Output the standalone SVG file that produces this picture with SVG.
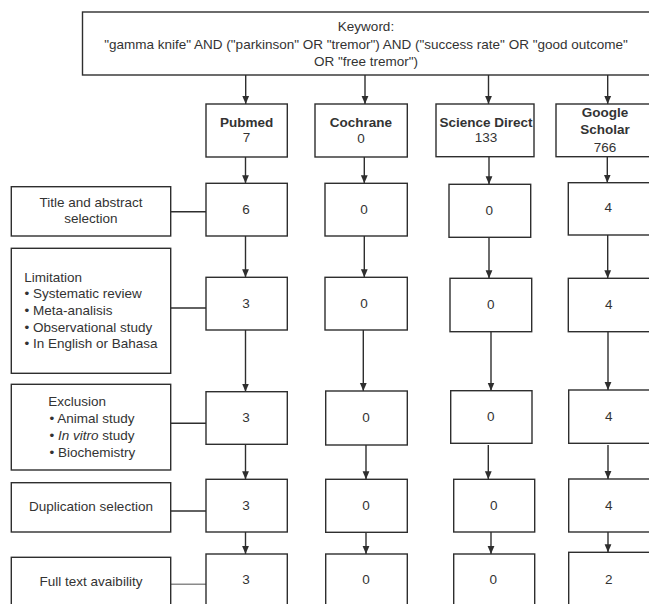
<svg xmlns="http://www.w3.org/2000/svg" width="649" height="604" viewBox="0 0 649 604">
<style>
.box{fill:#fff;stroke:#2e2e2e;stroke-width:1.4}
text{font-family:"Liberation Sans",Arial,sans-serif;font-size:13.5px;fill:#333}
.c{text-anchor:middle}
.b{font-weight:bold}
.con{stroke:#2e2e2e;stroke-width:1.4;fill:none}
.arr{marker-end:url(#ah)}
.gray{stroke:#8a8a8a}
</style>
<defs>
<marker id="ah" markerUnits="userSpaceOnUse" markerWidth="8" markerHeight="8" viewBox="0 0 8 8" refX="8" refY="4" orient="auto">
<path d="M0,0.6 L8,4 L0,7.4 z" fill="#2e2e2e"/>
</marker>
</defs>
<rect width="649" height="604" fill="#fff"/>

<g id="connectors">
<line class="con arr" x1="245.7" y1="75" x2="245.7" y2="104"/>
<line class="con arr" x1="365" y1="75" x2="365" y2="104"/>
<line class="con arr" x1="488.5" y1="75" x2="488.5" y2="104"/>
<line class="con arr" x1="607.7" y1="75" x2="607.7" y2="104"/>

<line class="con arr" x1="245.5" y1="157" x2="245.5" y2="183.3"/>
<line class="con arr" x1="364.3" y1="157" x2="364.3" y2="183.3"/>
<line class="con arr" x1="489" y1="157" x2="489" y2="184.3"/>
<line class="con arr" x1="607.3" y1="157" x2="607.3" y2="182.7"/>

<line class="con arr" x1="245.5" y1="236" x2="245.5" y2="277.3"/>
<line class="con arr" x1="364.3" y1="236" x2="364.3" y2="277.3"/>
<line class="con arr" x1="489" y1="237.3" x2="489" y2="278.3"/>
<line class="con arr" x1="607.7" y1="235" x2="607.7" y2="278.3"/>

<line class="con arr" x1="245.5" y1="330" x2="245.5" y2="391.7"/>
<line class="con arr" x1="363.3" y1="330" x2="363.3" y2="391"/>
<line class="con arr" x1="491" y1="331.7" x2="491" y2="390.7"/>
<line class="con arr" x1="608" y1="331.7" x2="608" y2="390"/>

<line class="con arr" x1="245.5" y1="444.3" x2="245.5" y2="479.3"/>
<line class="con arr" x1="366" y1="445" x2="366" y2="479.3"/>
<line class="con arr" x1="488.3" y1="445" x2="488.3" y2="479.3"/>
<line class="con arr" x1="608" y1="445" x2="608" y2="479"/>

<line class="con arr" x1="245.5" y1="532" x2="245.5" y2="554"/>
<line class="con arr" x1="366" y1="532.3" x2="366" y2="554"/>
<line class="con arr" x1="491" y1="532" x2="491" y2="554"/>
<line class="con arr" x1="608" y1="532" x2="608" y2="552.3"/>

<line class="con" x1="170.7" y1="211.7" x2="206" y2="211.7"/>
<line class="con" x1="170.7" y1="308" x2="206" y2="308"/>
<line class="con" x1="170.7" y1="423.3" x2="206" y2="423.3"/>
<line class="con" x1="170.7" y1="511" x2="206" y2="511"/>
<line class="con gray" x1="170.7" y1="584.3" x2="206" y2="584.3"/>
</g>

<g id="keyword">
<rect class="box" x="82.5" y="12" width="580" height="63"/>
<text class="c" x="366" y="30.7">Keyword:</text>
<text class="c" x="366" y="48.5">"gamma knife" AND ("parkinson" OR "tremor") AND ("success rate" OR "good outcome"</text>
<text class="c" x="366" y="66">OR "free tremor")</text>
</g>

<g id="pubmed">
<rect class="box" x="206" y="104" width="81.3" height="53"/>
<text class="c b" x="246.6" y="126.7">Pubmed</text>
<text class="c" x="246.6" y="142.3">7</text>
</g>
<g id="cochrane">
<rect class="box" x="315" y="104" width="92.3" height="53"/>
<text class="c b" x="361" y="127.3">Cochrane</text>
<text class="c" x="361" y="142.7">0</text>
</g>
<g id="sciencedirect">
<rect class="box" x="436" y="104" width="98" height="52.7"/>
<text class="c b" x="486" y="126.7">Science Direct</text>
<text class="c" x="486" y="142">133</text>
</g>
<g id="googlescholar">
<rect class="box" x="556" y="104" width="110" height="52.7"/>
<text class="c b" x="605" y="117.3">Google</text>
<text class="c b" x="605" y="134.3">Scholar</text>
<text class="c" x="605" y="151.7">766</text>
</g>

<g id="title-abstract">
<rect class="box" x="11.3" y="186.7" width="159.4" height="49.3"/>
<text class="c" x="91" y="206.7">Title and abstract</text>
<text class="c" x="91" y="222.7">selection</text>
</g>
<g id="limitation">
<rect class="box" x="11.3" y="248.3" width="159.4" height="125"/>
<text x="24.3" y="281.7">Limitation</text>
<text x="24.5" y="298.3">• Systematic review</text>
<text x="24.5" y="315">• Meta-analisis</text>
<text x="24.5" y="331.7">• Observational study</text>
<text x="24.5" y="348.3">• In English or Bahasa</text>
</g>
<g id="exclusion">
<rect class="box" x="11.3" y="384.3" width="159.4" height="85.7"/>
<text x="48.3" y="406">Exclusion</text>
<text x="49.5" y="423.3">• Animal study</text>
<text x="49.5" y="440">• <tspan font-style="italic">In vitro</tspan> study</text>
<text x="49.5" y="456.5">• Biochemistry</text>
</g>
<g id="duplication">
<rect class="box" x="11.3" y="482.7" width="159.4" height="49.3"/>
<text class="c" x="91" y="510.7">Duplication selection</text>
</g>
<g id="fulltext">
<rect class="box" x="11.3" y="557.3" width="159.4" height="60"/>
<text class="c" x="91" y="585.7">Full text avaibility</text>
</g>

<g id="p2"><rect class="box" x="206" y="183.3" width="81.3" height="52.7"/><text class="c" x="246" y="214.3">6</text></g>
<g id="c2"><rect class="box" x="325" y="183.3" width="82.3" height="52.7"/><text class="c" x="364" y="214">0</text></g>
<g id="s2"><rect class="box" x="449" y="184.3" width="81.7" height="53"/><text class="c" x="489.3" y="215">0</text></g>
<g id="g2"><rect class="box" x="568.3" y="182.7" width="100" height="52.3"/><text class="c" x="608.3" y="211.7">4</text></g>

<g id="p3"><rect class="box" x="206" y="277.3" width="81.3" height="52.7"/><text class="c" x="246" y="307.7">3</text></g>
<g id="c3"><rect class="box" x="325" y="277.3" width="82.3" height="52.7"/><text class="c" x="364" y="308.3">0</text></g>
<g id="s3"><rect class="box" x="450" y="278.3" width="81.7" height="53.4"/><text class="c" x="490.7" y="308.7">0</text></g>
<g id="g3"><rect class="box" x="568.3" y="278.3" width="100" height="53.4"/><text class="c" x="608.7" y="308.7">4</text></g>

<g id="p4"><rect class="box" x="206" y="391.7" width="81.3" height="52.6"/><text class="c" x="246" y="422">3</text></g>
<g id="c4"><rect class="box" x="325.7" y="391" width="81.6" height="54"/><text class="c" x="366" y="422">0</text></g>
<g id="s4"><rect class="box" x="450.7" y="390.7" width="81.3" height="52.6"/><text class="c" x="490.7" y="420.7">0</text></g>
<g id="g4"><rect class="box" x="568.7" y="390" width="100" height="53.3"/><text class="c" x="608.7" y="420.7">4</text></g>

<g id="p5"><rect class="box" x="206" y="479.3" width="81.3" height="52.7"/><text class="c" x="246" y="510">3</text></g>
<g id="c5"><rect class="box" x="325.7" y="479.3" width="81.6" height="53"/><text class="c" x="366" y="509.7">0</text></g>
<g id="s5"><rect class="box" x="453.7" y="479.3" width="81" height="52.7"/><text class="c" x="493.7" y="509.7">0</text></g>
<g id="g5"><rect class="box" x="568.7" y="479" width="100" height="53"/><text class="c" x="608.7" y="509.7">4</text></g>

<g id="p6"><rect class="box" x="206" y="554" width="81.3" height="60"/><text class="c" x="246" y="584.3">3</text></g>
<g id="c6"><rect class="box" x="325.7" y="554" width="81.6" height="60"/><text class="c" x="366" y="584">0</text></g>
<g id="s6"><rect class="box" x="453.7" y="554" width="81" height="60"/><text class="c" x="493.3" y="584">0</text></g>
<g id="g6"><rect class="box" x="568.7" y="552.3" width="100" height="60"/><text class="c" x="608.7" y="584">2</text></g>
</svg>
